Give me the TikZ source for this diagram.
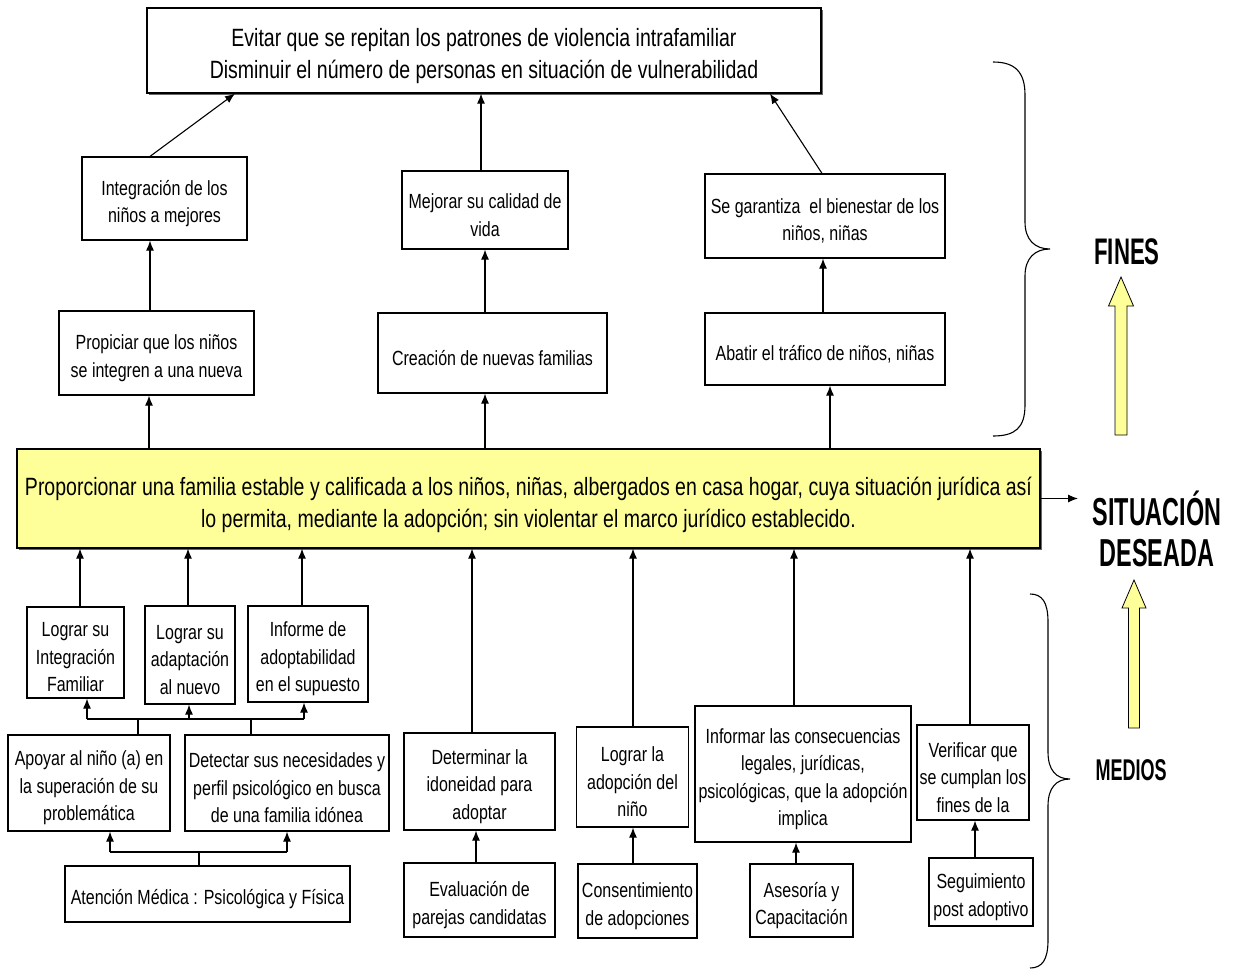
\documentclass[tikz,border=0pt]{standalone}
\usepackage{fontspec}
\setmainfont[FakeStretch=0.78]{Liberation Sans}
\newfontfamily\labfont[FakeStretch=0.6]{Liberation Sans}
\usetikzlibrary{arrows.meta,shadows}
\definecolor{lightyel}{RGB}{255,255,153}
% #1 frame style, #2 text style, #3 name, #4 centre, #5 width, #6 height, #7 text
\newcommand\mybox[7]{%
  \node[#1, minimum width=#5, minimum height=#6] (#3) at (#4) {};
  \node[#2] (#3-t) at ([yshift=-5pt]#3.center) {#7};}
\begin{document}
\begin{tikzpicture}[x=1pt,y=-1pt,
  frame/.style={draw, line width=1.2pt, fill=white, inner sep=0pt},
  yframe/.style={frame, fill=lightyel, drop shadow={shadow xshift=2pt, shadow yshift=-2pt, fill=black!60, opacity=1}},
  tframe/.style={frame, drop shadow={shadow xshift=1.5pt, shadow yshift=-1.5pt, fill=black!60, opacity=1}},
  txt/.style={inner sep=0pt, align=center, font=\fontsize{20.5}{27.5}\selectfont},
  bigtxt/.style={inner sep=0pt, align=center, font=\fontsize{25}{32}\selectfont, yshift=-1pt},
  conn/.style={line width=1.1pt},
  arr/.style={conn, -{Latex[length=10pt,width=8pt]}},
  lab/.style={align=center, inner sep=0pt, font=\labfont\bfseries},
  yarrow/.style={draw, fill=lightyel, line width=0.8pt}]
\useasboundingbox (0,0) rectangle (1237,969);

% top level
\mybox{tframe}{bigtxt}{top}{484,50.5}{674}{85}
 {Evitar que se repitan los patrones de violencia intrafamiliar\\Disminuir el número de personas en situación de vulnerabilidad}

\mybox{frame}{txt}{int}{164.5,198.5}{165}{83}{Integración de los\\niños a mejores}
\mybox{frame}{txt}{mej}{485,210}{166}{78}{Mejorar su calidad de\\vida}
\mybox{frame}{txt}{gar}{825,216}{240}{84}{Se garantiza\ \ el bienestar de los\\niños, niñas}

\mybox{frame}{txt}{pro}{156.5,353}{195}{84}{Propiciar que los niños\\se integren a una nueva}
\mybox{frame}{txt}{cre}{492.5,353}{229}{80}{Creación de nuevas familias}
\mybox{frame}{txt}{aba}{825,349}{240}{72}{Abatir el tráfico de niños, niñas}

% central box
\mybox{yframe}{bigtxt}{yel}{528.5,498.5}{1023}{99}
 {Proporcionar una familia estable y calificada a los niños, niñas, albergados en casa hogar, cuya situación jurídica así\\lo permita, mediante la adopción; sin violentar el marco jurídico establecido.}

% lower boxes
\mybox{frame}{txt}{lin}{75.5,652.5}{97}{91}{Lograr su\\Integración\\Familiar}
\mybox{frame}{txt}{lad}{190,655}{90}{98}{Lograr su\\adaptación\\al nuevo}
\mybox{frame}{txt}{inf}{308,654}{120}{96}{Informe de\\adoptabilidad\\en el supuesto}
\mybox{frame}{txt}{apo}{89,783}{162}{96}{Apoyar al niño (a) en\\la superación de su\\problemática}
\mybox{frame}{txt}{det}{287,783}{204}{96}{Detectar sus necesidades y\\perfil psicológico en busca\\de una familia idónea}
\mybox{frame}{txt}{ate}{207.5,894}{285}{56}{Atención Médica : Psicológica y Física}

\mybox{frame}{txt}{dete}{479.5,781.5}{151}{97}{Determinar la\\idoneidad para\\adoptar}
\mybox{frame}{txt}{eva}{479.5,900}{151}{74}{Evaluación de\\parejas candidatas}
\mybox{frame}{txt}{lla}{632.5,777}{112}{100}{Lograr la\\adopción del\\niño}
\mybox{frame}{txt}{con}{637.5,901}{119}{74}{Consentimiento\\de adopciones}
\mybox{frame}{txt}{infc}{803,774}{216}{136}{Informar las consecuencias\\legales, jurídicas,\\psicológicas, que la adopción\\implica}
\mybox{frame}{txt}{ase}{801.5,900.5}{103}{73}{Asesoría y\\Capacitación}
\mybox{frame}{txt}{ver}{973,772.5}{112}{95}{Verificar que\\se cumplan los\\fines de la}
\mybox{frame}{txt}{seg}{981,892}{104}{68}{Seguimiento\\post adoptivo}

% labels
\node[lab, font=\labfont\bfseries\fontsize{39}{41}\selectfont] (sit) at (1157,529) {SITUACIÓN\\DESEADA};
\node[lab, font=\labfont\bfseries\fontsize{37}{38}\selectfont] (fines) at (1127,252) {FINES};
\node[lab, font=\labfont\bfseries\fontsize{30}{32}\selectfont] (medios) at (1131,770) {MEDIOS};

% upper connectors
\draw[arr] ([xshift=-7.5]pro.south |- yel.north) -- ([xshift=-7.5]pro.south);
\draw[arr] ([xshift=-7.5]cre.south |- yel.north) -- ([xshift=-7.5]cre.south);
\draw[arr] ([xshift=5]aba.south |- yel.north) -- ([xshift=5]aba.south);
\draw[arr] ([xshift=-6.5]pro.north) -- ([xshift=-6.5]pro.north |- int.south);
\draw[arr] (mej.south |- cre.north) -- (mej.south);
\draw[arr] ([xshift=-2]aba.north) -- ([xshift=-2]aba.north |- gar.south);
\draw[arr] ([xshift=-14.5]int.north) -- ([xshift=-249]top.south);
\draw[arr] ([xshift=-4]mej.north) -- ([xshift=-4]mej.north |- top.south);
\draw[arr] ([xshift=-3]gar.north) -- ([xshift=286]top.south);

% to situacion deseada
\coordinate (sdend) at (1078,498.5);
\draw[arr] (yel.east) -- (sdend);

% lower connectors into central box
\draw[arr] ([xshift=4.5]lin.north) -- ([xshift=4.5]lin.north |- yel.south);
\draw[arr] ([xshift=-2]lad.north) -- ([xshift=-2]lad.north |- yel.south);
\draw[arr] ([xshift=-6]inf.north) -- ([xshift=-6]inf.north |- yel.south);
\draw[arr] ([xshift=-7.5]dete.north) -- ([xshift=-7.5]dete.north |- yel.south);
\draw[arr] ([xshift=0.5]lla.north) -- ([xshift=0.5]lla.north |- yel.south);
\draw[arr] ([xshift=-9]infc.north) -- ([xshift=-9]infc.north |- yel.south);
\draw[arr] ([xshift=-3]ver.north) -- ([xshift=-3]ver.north |- yel.south);

% bus A
\coordinate (busA) at (196,719);
\draw[conn] ([xshift=11.5]lin.south |- busA) -- ([xshift=-4]inf.south |- busA);
\draw[conn] ([xshift=49]apo.north) -- ([xshift=49]apo.north |- busA);
\draw[conn] ([xshift=-36]det.north) -- ([xshift=-36]det.north |- busA);
\draw[arr] ([xshift=11.5]lin.south |- busA) -- ([xshift=11.5]lin.south);
\draw[arr] ([xshift=-1]lad.south |- busA) -- ([xshift=-1]lad.south);
\draw[arr] ([xshift=-4]inf.south |- busA) -- ([xshift=-4]inf.south);

% bus B
\coordinate (busB) at (199,852);
\draw[conn] ([xshift=21]apo.south |- busB) -- (det.south |- busB);
\draw[conn] ([xshift=-8.5]ate.north) -- ([xshift=-8.5]ate.north |- busB);
\draw[arr] ([xshift=21]apo.south |- busB) -- ([xshift=21]apo.south);
\draw[arr] (det.south |- busB) -- (det.south);

% other lower
\draw[arr] ([xshift=-3.5]eva.north) -- ([xshift=-3.5]eva.north |- dete.south);
\draw[arr] ([xshift=-4.5]con.north) -- ([xshift=-4.5]con.north |- lla.south);
\draw[arr] ([xshift=-5.5]ase.north) -- ([xshift=-5.5]ase.north |- infc.south);
\draw[arr] ([xshift=-6]seg.north) -- ([xshift=-6]seg.north |- ver.south);

% braces
\draw[line width=1.1pt] (993,62) .. controls (1015,62) and (1025,72) .. (1025,95) -- (1025,222)
  .. controls (1025,240) and (1035,249) .. (1050,249)
  .. controls (1035,249) and (1025,258) .. (1025,276) -- (1025,405)
  .. controls (1025,428) and (1015,436) .. (993,436);
\draw[line width=1.1pt] (1030,594) .. controls (1042,594) and (1048,602) .. (1048,622) -- (1048,752)
  .. controls (1048,770) and (1056,779) .. (1070,779)
  .. controls (1056,779) and (1048,788) .. (1048,806) -- (1048,940)
  .. controls (1048,960) and (1042,968) .. (1030,968);

% yellow arrows
\draw[yarrow] (1115,435) -- (1115,306) -- (1108.5,306) -- (1121,277) -- (1133.5,306) -- (1127,306) -- (1127,435) -- cycle;
\draw[yarrow] (1128.5,728) -- (1128.5,608) -- (1122,608) -- (1134,580) -- (1146,608) -- (1139.5,608) -- (1139.5,728) -- cycle;
\end{tikzpicture}
\end{document}
